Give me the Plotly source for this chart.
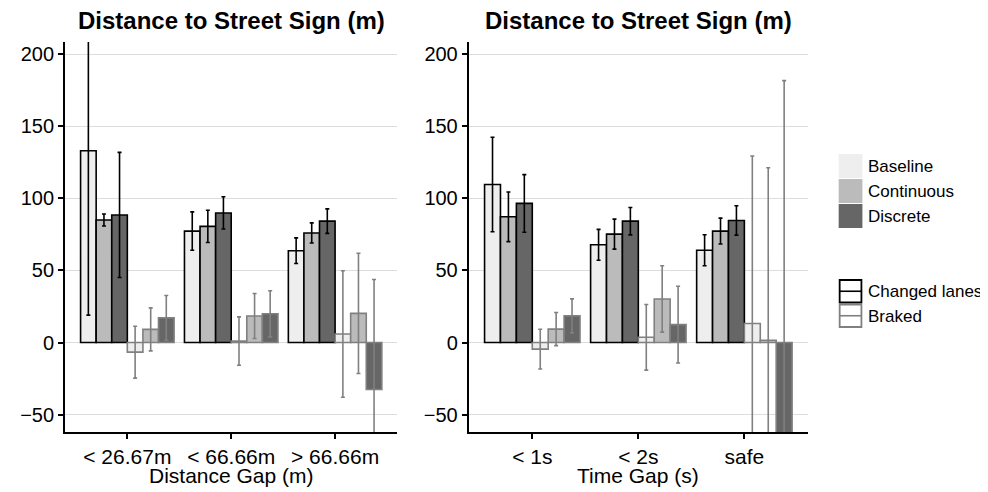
import plotly.graph_objects as go

# categories
DIST_GAPS = ["< 26.67m", "< 66.66m", "> 66.66m"]
TIME_GAPS = ["< 1s", "< 2s", "safe"]

# distance gap panel: mean and CI half-width
dist_changed_baseline = [133.0, 77.3, 63.7]
dist_changed_baseline_ci = [114.0, 13.3, 8.9]
dist_changed_continuous = [85.0, 80.6, 76.0]
dist_changed_continuous_ci = [4.2, 11.2, 7.0]
dist_changed_discrete = [88.5, 89.9, 84.2]
dist_changed_discrete_ci = [43.4, 11.2, 8.5]
dist_braked_baseline = [-6.7, 1.0, 5.9]
dist_braked_baseline_ci = [18.0, 16.8, 43.9]
dist_braked_continuous = [9.1, 18.4, 20.2]
dist_braked_continuous_ci = [14.9, 15.6, 41.7]
dist_braked_discrete = [17.1, 19.9, -32.6]
dist_braked_discrete_ci = [15.5, 16.0, 76.3]

# time gap panel
time_changed_baseline = [109.6, 67.8, 64.0]
time_changed_baseline_ci = [32.8, 10.7, 10.8]
time_changed_continuous = [87.2, 75.2, 77.3]
time_changed_continuous_ci = [17.2, 10.4, 9.0]
time_changed_discrete = [96.5, 84.2, 84.7]
time_changed_discrete_ci = [20.0, 9.5, 10.2]
time_braked_baseline = [-4.6, 3.6, 13.2]
time_braked_baseline_ci = [13.8, 22.8, 116.2]
time_braked_continuous = [9.3, 30.2, 1.6]
time_braked_continuous_ci = [11.5, 23.0, 119.7]
time_braked_discrete = [18.5, 12.4, -95.0]
time_braked_discrete_ci = [11.8, 26.6, 276.7]

FILLS = {"Baseline": "#EEEEEE", "Continuous": "#BBBBBB", "Discrete": "#666666"}
EDGES = {"Changed lanes": "#000000", "Braked": "#808080"}
FONT = "Liberation Sans, Arial, sans-serif"

# plot area (screen pixels); the page body adds an 8px offset
W, H = 988, 492
OFF = 8
X0, X1, Y0, Y1 = 57, 808, 42, 432
PW, PH = X1 - X0, Y1 - Y0


def px(x):
    return (x - X0) / PW


def py(y):
    return (Y1 - y) / PH


fig = go.Figure()

panels = [
    ("x", "y", DIST_GAPS, [
        ("Changed lanes", "Baseline", dist_changed_baseline, dist_changed_baseline_ci),
        ("Changed lanes", "Continuous", dist_changed_continuous, dist_changed_continuous_ci),
        ("Changed lanes", "Discrete", dist_changed_discrete, dist_changed_discrete_ci),
        ("Braked", "Baseline", dist_braked_baseline, dist_braked_baseline_ci),
        ("Braked", "Continuous", dist_braked_continuous, dist_braked_continuous_ci),
        ("Braked", "Discrete", dist_braked_discrete, dist_braked_discrete_ci),
    ]),
    ("x2", "y2", TIME_GAPS, [
        ("Changed lanes", "Baseline", time_changed_baseline, time_changed_baseline_ci),
        ("Changed lanes", "Continuous", time_changed_continuous, time_changed_continuous_ci),
        ("Changed lanes", "Discrete", time_changed_discrete, time_changed_discrete_ci),
        ("Braked", "Baseline", time_braked_baseline, time_braked_baseline_ci),
        ("Braked", "Continuous", time_braked_continuous, time_braked_continuous_ci),
        ("Braked", "Discrete", time_braked_discrete, time_braked_discrete_ci),
    ]),
]

for xa, ya, cats, series in panels:
    for resp, cond, vals, ci in series:
        fig.add_trace(go.Bar(
            x=cats, y=vals, xaxis=xa, yaxis=ya,
            name=f"{resp} - {cond}", showlegend=False,
            marker=dict(color=FILLS[cond], line=dict(color=EDGES[resp], width=1.6)),
            error_y=dict(type="data", array=ci, color=EDGES[resp], thickness=1.6, width=2),
        ))

left_dom = [0, px(393)]
right_dom = [px(465), 1]

axis_common = dict(
    showline=True, linecolor="black", linewidth=1.8,
    ticks="outside", ticklen=5, tickwidth=1.5, tickcolor="black",
)
yvals = [-50, 0, 50, 100, 150, 200]
ytext = ["\u221250", "0", "50", "100", "150", "200"]
ycommon = dict(axis_common, range=[-62.1, 208.5], tickvals=yvals, ticktext=ytext,
               tickfont=dict(family=FONT, size=20, color="black"),
               showgrid=True, gridcolor="#DDDDDD", gridwidth=1, zeroline=False)
xcommon = dict(axis_common, range=[-0.6, 2.6], showgrid=False, type="category",
               tickfont=dict(family=FONT, size=21, color="black"))

fig.update_layout(
    width=W, height=H,
    margin=dict(l=X0 - OFF, r=W - X1 + OFF, t=Y0 - OFF, b=H - Y1 + OFF),
    paper_bgcolor="white", plot_bgcolor="white",
    barmode="group", bargap=0.1, bargroupgap=0,
    font=dict(family=FONT, color="black"),
    xaxis=dict(xcommon, domain=left_dom, anchor="y"),
    yaxis=dict(ycommon, anchor="x"),
    xaxis2=dict(xcommon, domain=right_dom, anchor="y2"),
    yaxis2=dict(ycommon, anchor="x2"),
)

annotations = []
for dom, title, xlab in [(left_dom, "Distance to Street Sign (m)", "Distance Gap (m)"),
                         (right_dom, "Distance to Street Sign (m)", "Time Gap (s)")]:
    cx = (dom[0] + dom[1]) / 2
    annotations.append(dict(x=cx, y=py(21), xref="paper", yref="paper", text=f"<b>{title}</b>",
                            showarrow=False, xanchor="center", yanchor="middle",
                            font=dict(family=FONT, size=24, color="black")))
    annotations.append(dict(x=cx, y=py(475), xref="paper", yref="paper", text=xlab,
                            showarrow=False, xanchor="center", yanchor="middle",
                            font=dict(family=FONT, size=21, color="black")))

# legend: fill key
shapes = []
kx0, kx1 = px(839), px(863)
for i, cond in enumerate(["Baseline", "Continuous", "Discrete"]):
    top = 154 + 25 * i
    shapes.append(dict(type="rect", xref="paper", yref="paper", x0=kx0, x1=kx1,
                       y0=py(top), y1=py(top + 24), fillcolor=FILLS[cond], line=dict(width=0)))
    annotations.append(dict(x=px(867), y=py(top + 12), xref="paper", yref="paper", text=cond,
                            showarrow=False, xanchor="left", yanchor="middle",
                            font=dict(family=FONT, size=17, color="black")))

# legend: outline key
for i, resp in enumerate(["Changed lanes", "Braked"]):
    top = 280 + 24.5 * i
    shapes.append(dict(type="rect", xref="paper", yref="paper", x0=px(840), x1=px(862),
                       y0=py(top), y1=py(top + 22.5), fillcolor="white",
                       line=dict(color=EDGES[resp], width=1.8)))
    shapes.append(dict(type="line", xref="paper", yref="paper", x0=px(840), x1=px(862),
                       y0=py(top + 11.25), y1=py(top + 11.25),
                       line=dict(color=EDGES[resp], width=1.6)))
    annotations.append(dict(x=px(867), y=py(top + 11.5), xref="paper", yref="paper", text=resp,
                            showarrow=False, xanchor="left", yanchor="middle",
                            font=dict(family=FONT, size=17, color="black")))

fig.update_layout(annotations=annotations, shapes=shapes)

fig.write_html("out.html")
